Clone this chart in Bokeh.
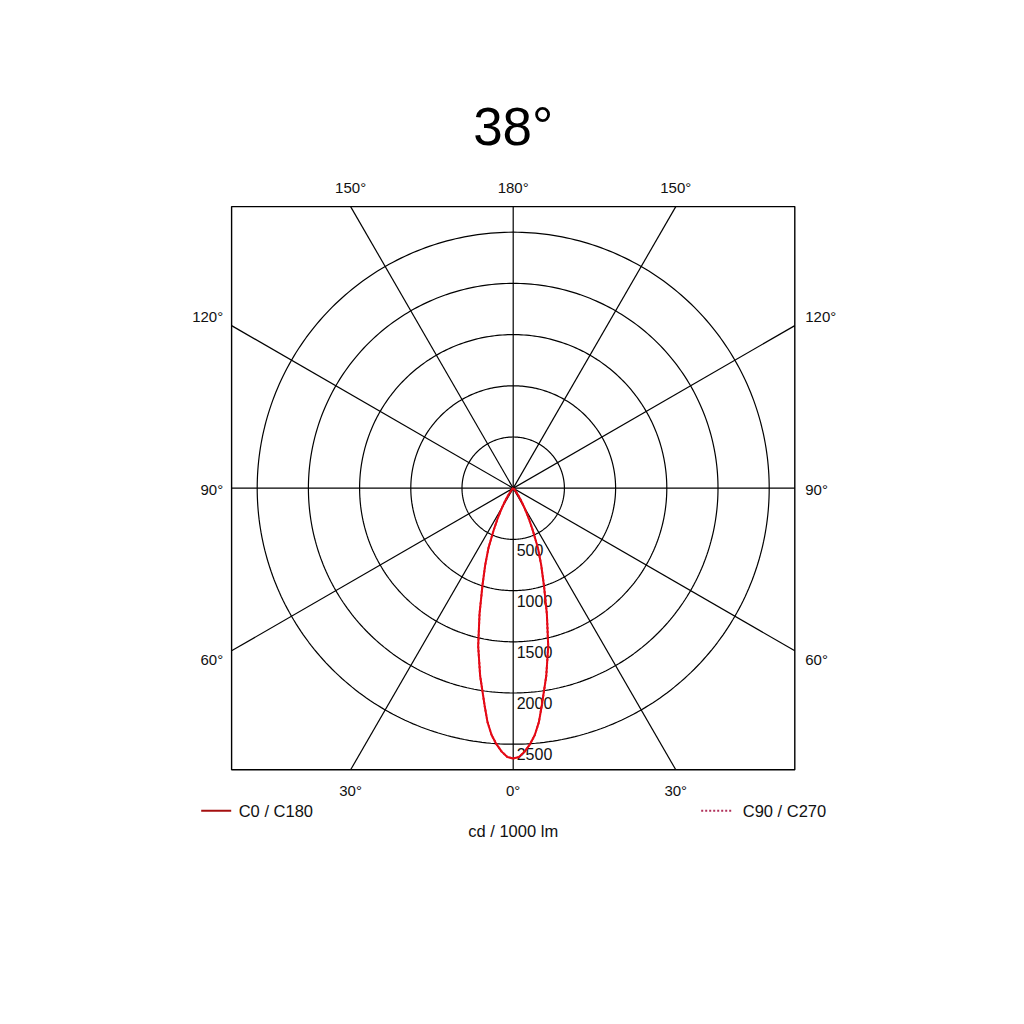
import numpy as np
from bokeh.plotting import figure
from bokeh.models import Range1d
from bokeh.core.properties import value
from bokeh.embed import file_html
from bokeh.resources import INLINE

# luminous intensity (cd / 1000 lm) against gamma angle
gamma = [0, 1.25, 2.5, 3.75, 5, 6.25, 7.5, 10, 12.5, 15, 17.5, 20, 22.5, 25, 27.5, 30,
         32.5, 35, 37.5, 40, 45, 50, 60, 70, 80, 90]
c0_c180 = [2640, 2625, 2575, 2505, 2420, 2300, 2140, 1860, 1580, 1270, 1000, 800, 630,
           450, 320, 215, 140, 85, 50, 30, 12, 5, 2, 0, 0, 0]
c90_c270 = [2640, 2625, 2575, 2505, 2420, 2300, 2140, 1860, 1580, 1270, 1000, 800, 630,
            450, 320, 215, 140, 85, 50, 30, 12, 5, 2, 0, 0, 0]

rings = [500, 1000, 1500, 2000, 2500]
ring_labels = ["500", "1000", "1500", "2000", "2500"]
spokes = [0, 30, 60, 90, 120, 150]
box = 2750

FONT = value("Liberation Sans")
PX = 2500 / 256.0   # cd per screen pixel

p = figure(width=1008, height=1008, output_backend="svg", toolbar_location=None,
           min_border=0, outline_line_color=None)
p.x_range = Range1d(-512.7 * PX, 495.3 * PX)
p.y_range = Range1d(-520.3 * PX, 487.7 * PX)
p.axis.visible = False
p.grid.visible = False
p.background_fill_color = "white"

# frame
p.rect(x=[0], y=[0], width=2 * box, height=2 * box, fill_color=None,
       line_color="black", line_width=1.4)

# circles
t = np.linspace(0, 2 * np.pi, 361)
for r in rings:
    p.line(r * np.cos(t), r * np.sin(t), line_color="black", line_width=1.2)

# spokes every 30 deg, clipped to the frame
for a in spokes:
    rad = np.radians(a)
    dx, dy = np.sin(rad), np.cos(rad)
    L = min(box / abs(dx) if abs(dx) > 1e-9 else 1e9,
            box / abs(dy) if abs(dy) > 1e-9 else 1e9)
    p.line([-L * dx, L * dx], [-L * dy, L * dy], line_color="black", line_width=1.2)

# radial scale labels
p.text(x=[3.5 * PX] * len(rings), y=[-(r + 100) for r in rings], text=ring_labels,
       text_font=FONT, text_font_size="16px", text_baseline="middle",
       text_align="left", text_color="#111111")

# angle labels
off = box * np.tan(np.radians(30))
top_y = 301 * PX
bot_y = -302 * PX
p.text(x=[-off, 0, off], y=[top_y] * 3, text=["150°", "180°", "150°"],
       text_font=FONT, text_font_size="15px", text_align="center",
       text_baseline="middle", text_color="#111111")
p.text(x=[-off, 0, off], y=[bot_y] * 3, text=["30°", "0°", "30°"],
       text_font=FONT, text_font_size="15px", text_align="center",
       text_baseline="middle", text_color="#111111")
side_y = [off + 9 * PX, -1.5 * PX, -off - 9 * PX]
p.text(x=[-290 * PX] * 3, y=side_y, text=["120°", "90°", "60°"],
       text_font=FONT, text_font_size="15px", text_align="right",
       text_baseline="middle", text_color="#111111")
p.text(x=[292 * PX] * 3, y=side_y, text=["120°", "90°", "60°"],
       text_font=FONT, text_font_size="15px", text_align="left",
       text_baseline="middle", text_color="#111111")


def curve(vals):
    g = np.radians(np.array(gamma))
    v = np.array(vals, dtype=float)
    xr, yr = v * np.sin(g), -v * np.cos(g)
    return np.concatenate([-xr[::-1], xr[1:]]), np.concatenate([yr[::-1], yr[1:]])


x0, y0 = curve(c0_c180)
p.line(x0, y0, line_color="#e00010", line_width=2)
x9, y9 = curve(c90_c270)
p.line(x9, y9, line_color="#e8101a", line_width=2, line_dash="2 2")

# legend
leg_y = -322.5 * PX
p.line([-312 * PX, -282 * PX], [leg_y, leg_y], line_color="#a50f0f", line_width=2)
p.text(x=[-274.5 * PX], y=[leg_y], text=["C0 / C180"], text_font=FONT,
       text_font_size="16.5px", text_baseline="middle", text_align="left",
       text_color="#111111")
p.line([188 * PX, 220 * PX], [leg_y, leg_y], line_color="#b0305a", line_width=2,
       line_dash="2 2")
p.text(x=[313 * PX], y=[leg_y], text=["C90 / C270"], text_font=FONT,
       text_font_size="16.5px", text_baseline="middle", text_align="right",
       text_color="#111111")
p.text(x=[0], y=[-342.5 * PX], text=["cd / 1000 lm"], text_font=FONT,
       text_font_size="16.5px", text_baseline="middle", text_align="center",
       text_color="#111111")

# title
p.text(x=[0], y=[362 * PX], text=["38°"], text_font=FONT, text_font_size="53px",
       text_baseline="alphabetic", text_align="center", text_color="black")

open("out.html", "w").write(file_html(p, INLINE))
